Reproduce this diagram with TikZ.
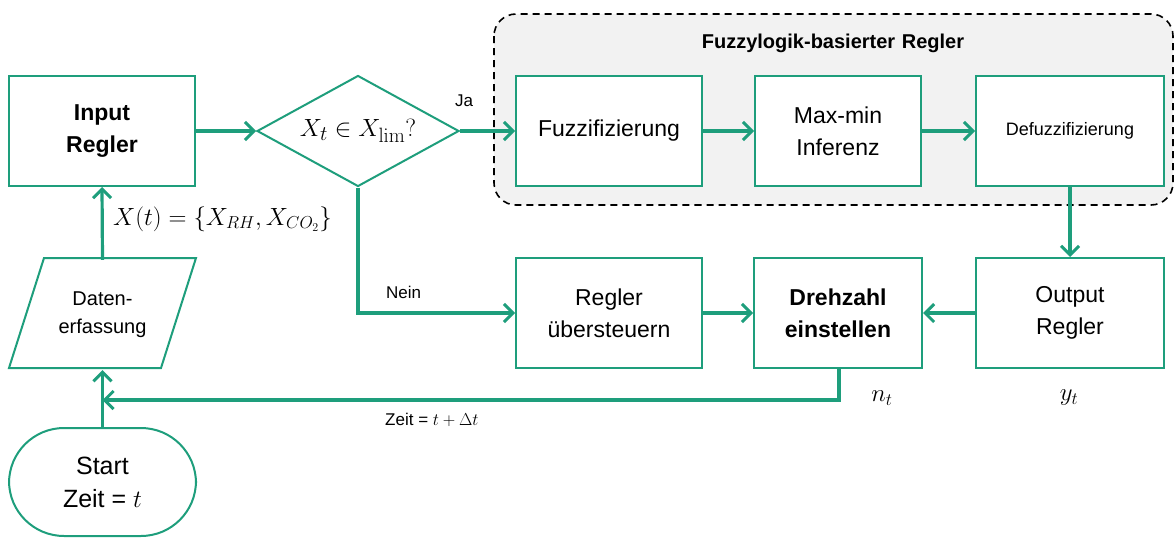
\documentclass[tikz,border=0pt]{standalone}
\usepackage[no-math]{fontspec}
\setmainfont{Liberation Sans}
\usetikzlibrary{arrows.meta,shapes.geometric}
\definecolor{tg}{RGB}{30,158,124}
\definecolor{boxgray}{RGB}{242,242,242}
\tikzset{
  box/.style={draw=tg, line width=2pt, fill=white, minimum width=186pt, minimum height=110pt, align=center, inner sep=0pt, font=\fontsize{23}{32}\selectfont},
  conn/.style={draw=tg, line width=3.2pt, -{Straight Barb[length=9pt,width=18pt,line width=3pt]}},
  lbl/.style={font=\fontsize{17}{20}\selectfont, inner sep=0pt},
}
\begin{document}
\begin{tikzpicture}[x=1pt,y=-1pt]
\useasboundingbox (0,0) rectangle (1176,538);
% container
\draw[black, line width=1.6pt, dash pattern=on 7pt off 5pt, fill=boxgray, rounded corners=22pt] (494,14) rectangle (1173,205);
\node[font=\bfseries\fontsize{20}{24}\selectfont] (title) at (833,43) {Fuzzylogik-basierter\,\,Regler};
% top row
\node[box, font=\bfseries\fontsize{23}{32}\selectfont] (input) at (102,131) {Input\\Regler};
\node[draw=tg, line width=2pt, fill=white, diamond, aspect=1.82, minimum width=202pt, minimum height=111pt, inner sep=0pt, font=\fontsize{28}{30}\selectfont] (dec) at (358,131) {$X_t\in X_{\mathrm{lim}}?$};
\node[box] (fuzz) at (609,131) {Fuzzifizierung};
\node[box, minimum width=166pt] (maxmin) at (838,131) {Max-min\\Inferenz};
\node[box, minimum width=188pt, font=\fontsize{18}{22}\selectfont] (defuzz) at (1070,131) {Defuzzifizierung};
% bottom row
\node[box] (ueber) at (609,313) {Regler\\übersteuern};
\node[box, minimum width=168pt, font=\bfseries\fontsize{23}{32}\selectfont] (dreh) at (838,313) {Drehzahl\\einstellen};
\node[box, minimum width=188pt] (output) at (1070,313) {Output\\Regler};
% data parallelogram
\draw[draw=tg, line width=2pt, fill=white] (9,368) -- (44,258) -- (196,258) -- (161,368) -- cycle;
\node[minimum width=150pt, minimum height=110pt, inner sep=0pt, align=center, font=\fontsize{20}{28}\selectfont] (daten) at (102.5,315) {Daten-\\erfassung};
% start
\node[draw=tg, line width=2pt, fill=white, rounded corners=55pt, minimum width=187pt, minimum height=108pt, inner sep=0pt, align=center, font=\fontsize{25}{33}\selectfont] (start) at (102.5,482) {Start\\Zeit = $t$};
% coordinates
\coordinate (nein) at (358,313);
\coordinate (fbc) at (839,400);
\coordinate (fbl) at (102.5,400);
% connectors
\draw[conn] (input.east) -- (dec.west);
\draw[conn] (dec.east) -- (fuzz.west);
\draw[conn] (fuzz.east) -- (maxmin.west);
\draw[conn] (maxmin.east) -- (defuzz.west);
\draw[conn] (defuzz.south) -- (output.north);
\draw[conn] (output.west) -- (dreh.east);
\draw[conn] (ueber.east) -- (dreh.west);
\draw[conn] (dec.south) -- (nein) -- (ueber.west);
\draw[conn] (dreh.south -| fbc) -- (fbc) -- (fbl);
\draw[conn] ([yshift=-1pt]start.north) -- (daten.south);
\draw[conn] (daten.north) -- (input.south);
% labels
\node[lbl, anchor=west] (ja) at (455,101) {Ja};
\node[lbl, anchor=west] (neinl) at (386,292) {Nein};
\node[lbl, anchor=west] (zeit) at (385,420) {Zeit = $t+\Delta t$};
\node[anchor=west, inner sep=0pt, font=\fontsize{23}{26}\selectfont] (xt) at (113,219) {$X(t)=\bigl\{X_{RH},X_{CO_2}\bigr\}$};
\node[inner sep=0pt, font=\fontsize{27}{30}\selectfont] (nt) at (882,398) {$n_t$};
\node[inner sep=0pt, font=\fontsize{27}{30}\selectfont] (yt) at (1069,398) {$y_t$};
\end{tikzpicture}
\end{document}
